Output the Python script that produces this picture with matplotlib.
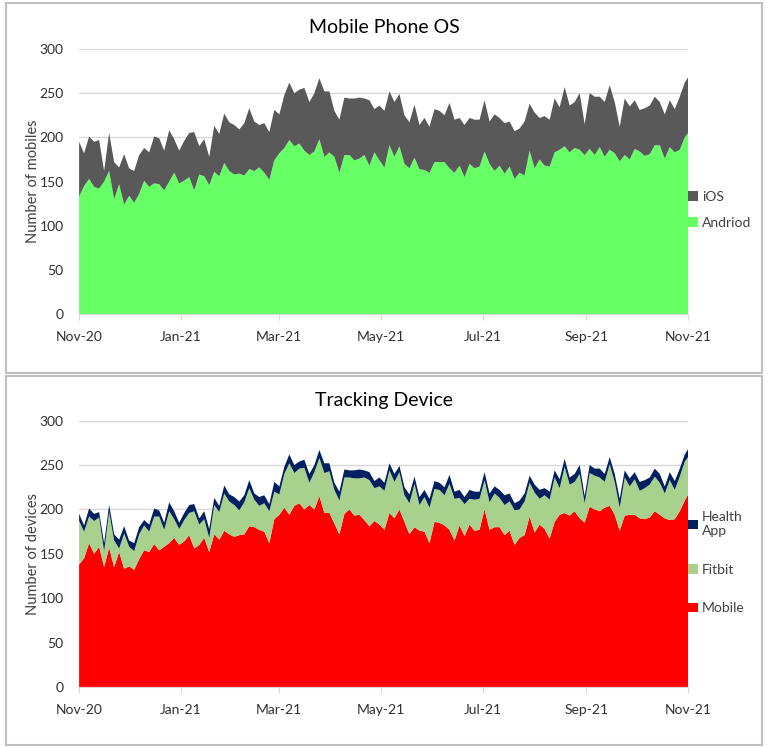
import numpy as np
import pandas as pd
import matplotlib
matplotlib.use("Agg")
import matplotlib.pyplot as plt
import matplotlib.dates as mdates
from matplotlib.patches import Rectangle

plt.rcParams['font.family'] = ['Lato', 'DejaVu Sans']

# sample days counted from 1 Nov 2020 (every 3rd day)
day_offsets = list(range(0, 364, 3)) + [365]

# top of the stack (all mobiles / all devices)
total = [195, 182, 201, 195, 197, 162, 205, 172, 166, 181,
         165, 162, 180, 188, 183, 201, 199, 185, 208, 198,
         185, 196, 205, 206, 190, 198, 178, 213, 204, 227,
         217, 214, 209, 216, 233, 218, 214, 216, 206, 231,
         226, 248, 262, 250, 254, 256, 240, 250, 267, 252,
         252, 230, 220, 245, 244, 244, 245, 244, 242, 232,
         236, 230, 252, 240, 249, 225, 217, 237, 214, 222,
         212, 232, 230, 225, 239, 220, 222, 214, 222, 220,
         220, 242, 218, 226, 222, 216, 218, 207, 210, 218,
         238, 228, 222, 224, 220, 244, 234, 257, 236, 240,
         250, 215, 250, 246, 246, 240, 259, 240, 212, 244,
         235, 242, 231, 233, 236, 246, 240, 226, 242, 232,
         246, 262, 268]

android = [133, 145, 153, 144, 142, 150, 162, 130, 147, 124,
           134, 126, 136, 151, 144, 148, 147, 140, 150, 160,
           148, 151, 155, 140, 158, 156, 146, 161, 156, 171,
           162, 158, 159, 157, 164, 162, 166, 160, 152, 174,
           182, 188, 197, 190, 193, 185, 180, 184, 198, 178,
           183, 178, 160, 180, 180, 174, 176, 180, 168, 183,
           174, 166, 191, 178, 190, 170, 165, 177, 164, 163,
           160, 172, 172, 172, 165, 160, 168, 155, 170, 165,
           167, 184, 170, 162, 168, 159, 167, 153, 160, 157,
           185, 165, 175, 168, 167, 183, 186, 190, 183, 188,
           186, 180, 187, 180, 189, 178, 186, 182, 173, 180,
           175, 187, 184, 179, 181, 191, 191, 176, 189, 183,
           186, 200, 205]

mobile = [138, 145, 162, 150, 158, 135, 157, 135, 152, 133,
          136, 132, 144, 154, 152, 161, 154, 158, 162, 168,
          160, 164, 171, 156, 160, 168, 152, 172, 166, 176,
          172, 169, 171, 172, 181, 180, 177, 175, 162, 189,
          194, 202, 194, 204, 207, 200, 205, 200, 215, 196,
          196, 184, 172, 195, 200, 193, 194, 188, 181, 187,
          183, 177, 196, 190, 200, 186, 172, 180, 176, 175,
          162, 186, 185, 182, 177, 165, 182, 170, 183, 176,
          177, 200, 177, 180, 180, 171, 176, 160, 168, 171,
          192, 174, 183, 178, 167, 186, 194, 196, 193, 198,
          190, 185, 203, 200, 198, 202, 204, 194, 176, 193,
          194, 194, 190, 189, 191, 198, 194, 190, 188, 189,
          198, 210, 217]

health_app = [8, 7, 9, 8, 6, 9, 8, 7, 10, 8,
              7, 9, 8, 6, 8, 9, 7, 8, 10, 9,
              7, 8, 9, 8, 7, 9, 10, 8, 7, 9,
              8, 9, 10, 8, 9, 7, 10, 9, 8, 11,
              9, 8, 10, 9, 8, 9, 10, 8, 9, 11,
              9, 8, 10, 9, 8, 9, 10, 8, 9, 8,
              10, 9, 8, 9, 7, 9, 10, 8, 9, 8,
              10, 9, 8, 9, 10, 8, 9, 8, 10, 9,
              8, 9, 10, 8, 9, 11, 9, 8, 10, 9,
              8, 9, 10, 8, 9, 8, 10, 9, 8, 9,
              10, 8, 9, 8, 10, 9, 8, 9, 10, 8,
              9, 8, 10, 9, 8, 9, 10, 8, 9, 10,
              9, 8, 9]

dates = pd.Timestamp('2020-11-01') + pd.to_timedelta(day_offsets, unit='D')
ios = np.array(total) - np.array(android)
fitbit = np.array(total) - np.array(mobile) - np.array(health_app)

tick_dates = pd.to_datetime(['2020-11-01', '2021-01-01', '2021-03-01', '2021-05-01',
                             '2021-07-01', '2021-09-01', '2021-11-01'])

grid_col = '#D9D9D9'


def style_axes(ax, ylabel):
    ax.set_xlim(pd.Timestamp('2020-11-01'), pd.Timestamp('2021-11-01'))
    ax.set_ylim(0, 300)
    ax.set_yticks(range(0, 301, 50))
    ax.set_xticks(tick_dates)
    ax.xaxis.set_major_formatter(mdates.DateFormatter('%b-%y'))
    ax.grid(axis='y', color=grid_col, lw=1)
    ax.set_axisbelow(True)
    for s in ['top', 'right', 'left']:
        ax.spines[s].set_visible(False)
    ax.spines['bottom'].set_color(grid_col)
    ax.spines['bottom'].set_zorder(5)
    ax.tick_params(axis='y', length=0, pad=11, labelsize=10, colors='#303030')
    ax.tick_params(axis='x', length=4, color=grid_col, pad=8, labelsize=10, colors='#303030')
    ax.set_ylabel(ylabel, fontsize=10.5, color='#404040')
    ax.yaxis.set_label_coords(-0.064, 0.5)


fig = plt.figure(figsize=(7.68, 7.48), dpi=100)

# panel frames
fig.add_artist(Rectangle((0.008, 0.501), 0.984, 0.495, transform=fig.transFigure,
                         fill=False, edgecolor='#BFBFBF', lw=1.5))
fig.add_artist(Rectangle((0.008, 0.004), 0.984, 0.493, transform=fig.transFigure,
                         fill=False, edgecolor='#BFBFBF', lw=1.5))

# top: mobile phone OS
ax1 = fig.add_axes([0.103, 0.580, 0.793, 0.3545])
p1 = ax1.stackplot(dates, android, ios, colors=['#66FF66', '#595959'], lw=0)
style_axes(ax1, 'Number of mobiles')
ax1.legend([p1[1], p1[0]], ['iOS', 'Andriod'], loc='center left',
           bbox_to_anchor=(1.0, 0.394), frameon=False, handlelength=0.7,
           handleheight=0.7, handletextpad=0.3, labelspacing=1.0,
           borderpad=0, borderaxespad=0, fontsize=10, labelcolor='#404040')
fig.text(0.5, 0.9626, 'Mobile Phone OS', ha='center', va='center', fontsize=14)

# bottom: tracking device
ax2 = fig.add_axes([0.103, 0.0816, 0.793, 0.356])
p2 = ax2.stackplot(dates, mobile, fitbit, health_app,
                   colors=['#FF0000', '#A9D18E', '#002060'], lw=0)
style_axes(ax2, 'Number of devices')
ax2.legend([p2[2], p2[1], p2[0]], ['Health\nApp', 'Fitbit', 'Mobile'], loc='center left',
           bbox_to_anchor=(1.0, 0.466), frameon=False, handlelength=0.7,
           handleheight=0.7, handletextpad=0.3, labelspacing=1.9,
           borderpad=0, borderaxespad=0, fontsize=10, labelcolor='#404040')
fig.text(0.5, 0.464, 'Tracking Device', ha='center', va='center', fontsize=14)

fig.savefig('out.png', dpi=100)
